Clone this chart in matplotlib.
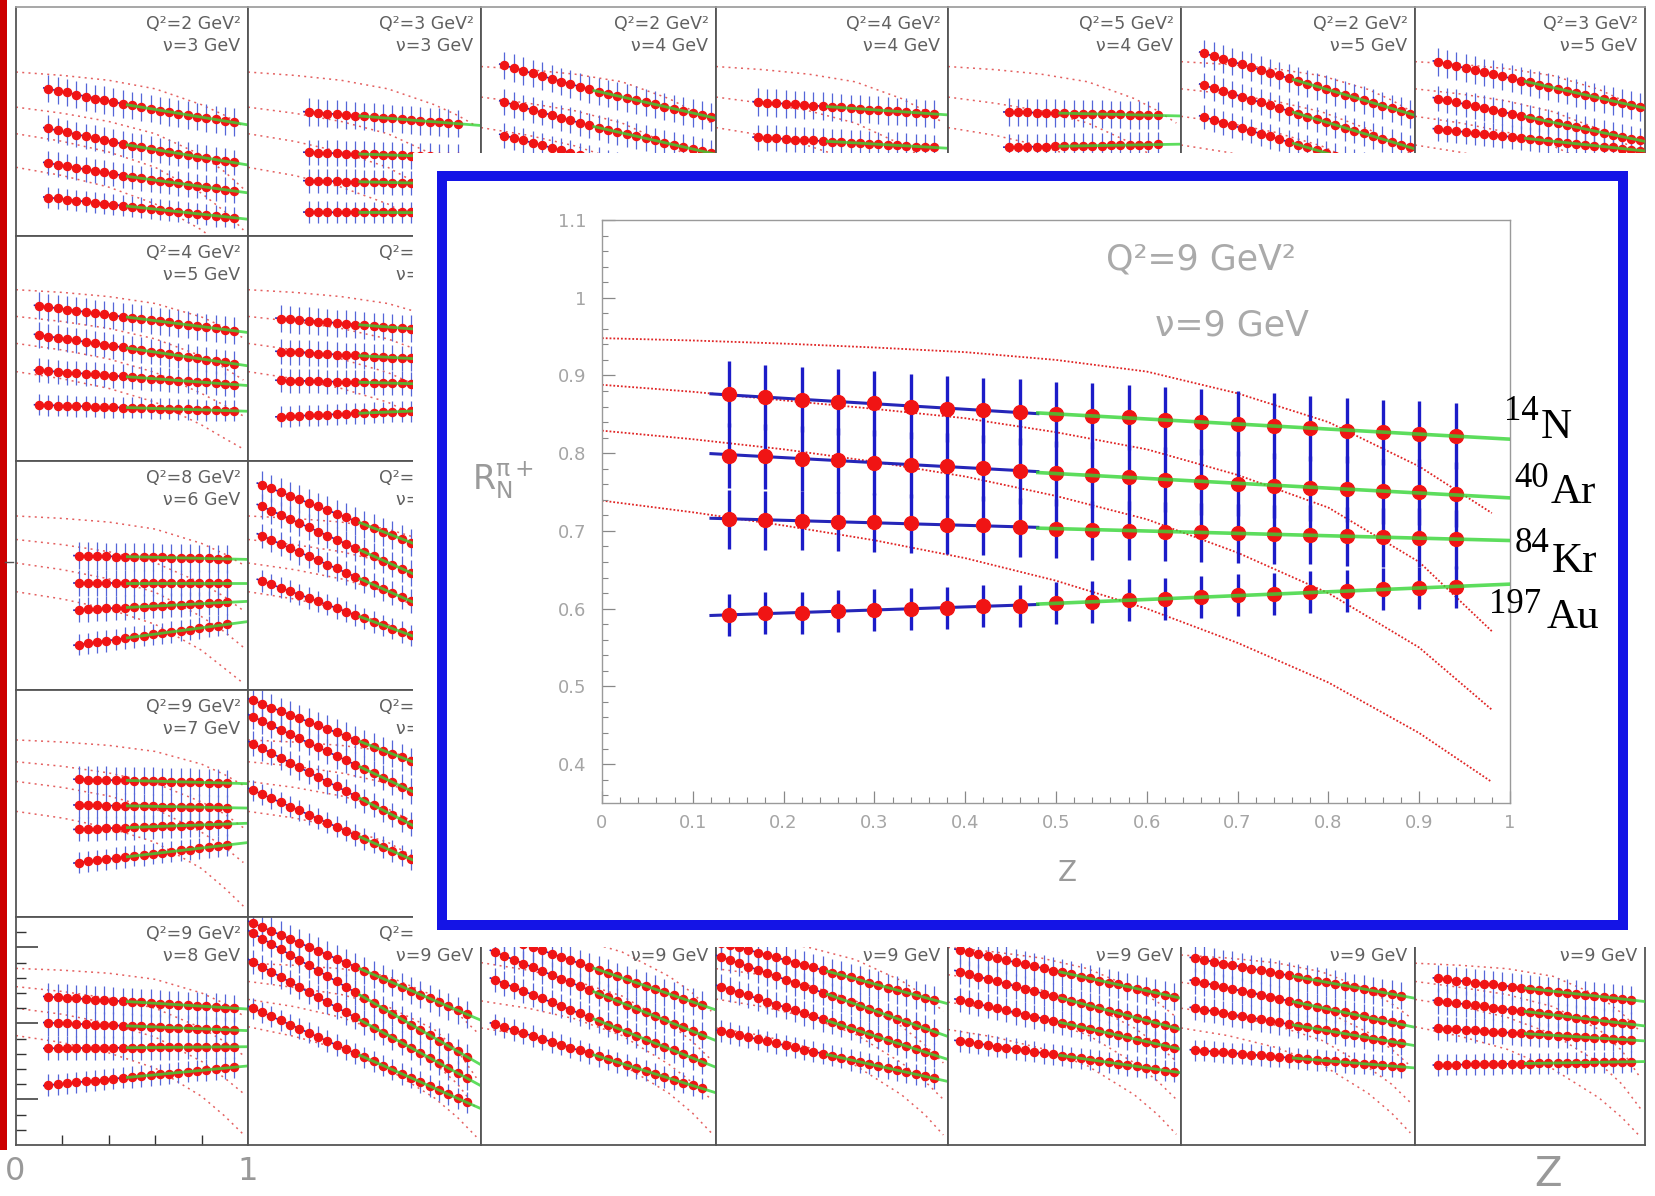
import matplotlib
matplotlib.use("Agg")
import matplotlib.pyplot as plt
import numpy as np
from matplotlib.patches import Rectangle
from matplotlib.lines import Line2D
from matplotlib.ticker import MultipleLocator

W, H = 1656, 1196

# ---------------- z bins of the pads ----------------
z_a = [0.14, 0.18, 0.22, 0.26, 0.30, 0.34, 0.38, 0.42, 0.46, 0.50, 0.54,
       0.58, 0.62, 0.66, 0.70, 0.74, 0.78, 0.82, 0.86, 0.90, 0.94]
z_b = [0.26, 0.30, 0.34, 0.38, 0.42, 0.46, 0.50, 0.54, 0.58, 0.62, 0.66,
       0.70, 0.74, 0.78, 0.82, 0.86, 0.90]
z_c = [0.10, 0.14, 0.18, 0.22, 0.26, 0.30, 0.34, 0.38, 0.42, 0.46, 0.50, 0.54,
       0.58, 0.62, 0.66, 0.70, 0.74, 0.78, 0.82, 0.86, 0.90, 0.94, 0.98]
z_d = [0.18, 0.22, 0.26, 0.30, 0.34, 0.38, 0.42, 0.46, 0.50, 0.54,
       0.58, 0.62, 0.66, 0.70, 0.74, 0.78, 0.82, 0.86, 0.90, 0.94]
z_e = [0.10, 0.14, 0.18, 0.22, 0.26, 0.30, 0.34, 0.38, 0.42, 0.46, 0.50,
       0.54, 0.58, 0.62, 0.66, 0.70, 0.74, 0.78, 0.82, 0.86, 0.90, 0.94]
z_f = [0.27, 0.31, 0.35, 0.39, 0.43, 0.47, 0.51, 0.55, 0.59, 0.63, 0.67,
       0.71, 0.75, 0.79, 0.83, 0.87, 0.91]
z_g = [0.06, 0.10, 0.14, 0.18, 0.22, 0.26, 0.30, 0.34, 0.38, 0.42, 0.46, 0.50,
       0.54, 0.58, 0.62, 0.66, 0.70, 0.74, 0.78, 0.82, 0.86, 0.90, 0.94]
z_h = [0.02, 0.06, 0.10, 0.14, 0.18, 0.22, 0.26, 0.30, 0.34, 0.38, 0.42, 0.46,
       0.50, 0.54, 0.58, 0.62, 0.66, 0.70, 0.74, 0.78, 0.82, 0.86, 0.90, 0.94]
z_i = [0.05, 0.09, 0.13, 0.17, 0.21, 0.25, 0.29, 0.33, 0.37, 0.41, 0.45, 0.49,
       0.53, 0.57, 0.61, 0.65, 0.69, 0.73, 0.77, 0.81, 0.85, 0.89, 0.93, 0.97]

# ---------------- model curves (dotted) ----------------
z_curve = [0.0, 0.2, 0.4, 0.6, 0.8, 0.9, 0.98]
nu3_curves = [[0.887, 0.876, 0.860, 0.832, 0.780, 0.745, 0.710],
              [0.772, 0.752, 0.725, 0.685, 0.615, 0.560, 0.505],
              [0.685, 0.660, 0.625, 0.575, 0.490, 0.430, 0.370],
              [0.575, 0.548, 0.510, 0.455, 0.370, 0.310, 0.250]]
nu4_curves = [[0.905, 0.895, 0.880, 0.855, 0.800, 0.760, 0.720],
              [0.805, 0.785, 0.760, 0.720, 0.650, 0.600, 0.550],
              [0.705, 0.680, 0.645, 0.595, 0.510, 0.455, 0.400],
              [0.600, 0.570, 0.535, 0.480, 0.390, 0.330, 0.280]]
nu5_curves = [[0.921, 0.912, 0.898, 0.875, 0.830, 0.795, 0.760],
              [0.832, 0.815, 0.792, 0.757, 0.700, 0.660, 0.620],
              [0.742, 0.720, 0.690, 0.645, 0.575, 0.535, 0.500],
              [0.648, 0.624, 0.592, 0.546, 0.470, 0.425, 0.390]]
nu6_curves = [[0.920, 0.912, 0.900, 0.877, 0.830, 0.795, 0.760],
              [0.843, 0.826, 0.803, 0.767, 0.700, 0.655, 0.610],
              [0.766, 0.744, 0.714, 0.670, 0.590, 0.540, 0.490],
              [0.672, 0.648, 0.615, 0.565, 0.480, 0.420, 0.372]]
nu7_curves = [[0.935, 0.928, 0.917, 0.897, 0.855, 0.820, 0.785],
              [0.863, 0.848, 0.826, 0.792, 0.730, 0.690, 0.645],
              [0.798, 0.778, 0.750, 0.707, 0.630, 0.580, 0.530],
              [0.699, 0.677, 0.645, 0.597, 0.510, 0.445, 0.386]]
nu8_curves = [[0.931, 0.925, 0.915, 0.895, 0.850, 0.815, 0.775],
              [0.871, 0.855, 0.833, 0.800, 0.735, 0.690, 0.645],
              [0.800, 0.780, 0.750, 0.705, 0.625, 0.570, 0.520],
              [0.710, 0.687, 0.653, 0.603, 0.510, 0.445, 0.385]]
nu9_curves = [[0.948, 0.941, 0.930, 0.905, 0.840, 0.783, 0.723],
              [0.888, 0.868, 0.845, 0.805, 0.730, 0.660, 0.571],
              [0.829, 0.805, 0.770, 0.715, 0.620, 0.550, 0.470],
              [0.739, 0.707, 0.665, 0.600, 0.505, 0.440, 0.377]]
p42_curves = [[1.080, 1.060, 1.030, 0.985, 0.905, 0.850, 0.790],
              [0.950, 0.925, 0.890, 0.840, 0.750, 0.690, 0.630],
              [0.824, 0.800, 0.765, 0.710, 0.615, 0.555, 0.500],
              [0.735, 0.710, 0.672, 0.615, 0.520, 0.455, 0.390]]
p43_curves = [[1.040, 1.025, 1.000, 0.960, 0.890, 0.840, 0.790],
              [0.930, 0.910, 0.875, 0.825, 0.740, 0.680, 0.620],
              [0.830, 0.805, 0.770, 0.715, 0.620, 0.560, 0.500],
              [0.735, 0.710, 0.670, 0.612, 0.515, 0.450, 0.383]]
p44_curves = [[1.000, 0.985, 0.965, 0.930, 0.865, 0.820, 0.770],
              [0.910, 0.890, 0.860, 0.815, 0.735, 0.680, 0.625],
              [0.820, 0.797, 0.763, 0.712, 0.620, 0.560, 0.500],
              [0.730, 0.705, 0.668, 0.610, 0.515, 0.450, 0.385]]
p45_curves = [[0.975, 0.965, 0.950, 0.920, 0.860, 0.815, 0.770],
              [0.885, 0.865, 0.838, 0.797, 0.720, 0.665, 0.610],
              [0.800, 0.778, 0.745, 0.695, 0.605, 0.550, 0.490],
              [0.735, 0.710, 0.672, 0.615, 0.520, 0.455, 0.390]]

# finer reading of the curves in the zoomed pad
z_curve_big = [0.0, 0.1, 0.2, 0.3, 0.4, 0.5, 0.6, 0.7, 0.8, 0.9, 0.98]
big_curves = [[0.948, 0.945, 0.941, 0.936, 0.930, 0.920, 0.905, 0.877, 0.840, 0.783, 0.723],
              [0.888, 0.879, 0.868, 0.857, 0.845, 0.827, 0.805, 0.772, 0.730, 0.660, 0.571],
              [0.829, 0.818, 0.805, 0.789, 0.770, 0.745, 0.715, 0.672, 0.620, 0.550, 0.470],
              [0.739, 0.724, 0.707, 0.688, 0.665, 0.636, 0.600, 0.556, 0.505, 0.440, 0.377]]

# ---------------- small pads: R for N, Ar, Kr, Au ----------------
p00_N = [0.833, 0.826, 0.820, 0.813, 0.806, 0.800, 0.795, 0.789, 0.783, 0.778, 0.772,
         0.767, 0.761, 0.756, 0.751, 0.746, 0.741, 0.736, 0.732, 0.727, 0.723]
p00_Ar = [0.703, 0.696, 0.689, 0.682, 0.676, 0.670, 0.664, 0.658, 0.652, 0.646, 0.641,
          0.635, 0.630, 0.625, 0.620, 0.615, 0.610, 0.605, 0.600, 0.596, 0.591]
p00_Kr = [0.589, 0.584, 0.578, 0.573, 0.568, 0.563, 0.558, 0.553, 0.548, 0.544, 0.539,
          0.535, 0.530, 0.526, 0.522, 0.518, 0.514, 0.510, 0.506, 0.502, 0.498]
p00_Au = [0.476, 0.473, 0.469, 0.466, 0.463, 0.459, 0.456, 0.453, 0.449, 0.446, 0.443,
          0.440, 0.436, 0.433, 0.430, 0.426, 0.423, 0.420, 0.416, 0.413, 0.410]

p01_N = [0.756, 0.754, 0.751, 0.749, 0.746, 0.744, 0.742, 0.739, 0.737, 0.735, 0.732,
         0.730, 0.727, 0.725, 0.723, 0.720, 0.718]
p01_Ar = [0.624, 0.623, 0.622, 0.621, 0.620, 0.619, 0.618, 0.617, 0.616, 0.615, 0.614,
          0.613, 0.612, 0.611, 0.610, 0.609, 0.608]
p01_Kr = [0.531, 0.530, 0.530, 0.529, 0.528, 0.528, 0.527, 0.526, 0.526, 0.525, 0.524,
          0.524, 0.523, 0.522, 0.522, 0.521, 0.520]
p01_Au = [0.428, 0.428, 0.428, 0.428, 0.427, 0.427, 0.427, 0.427, 0.427, 0.427, 0.427,
          0.427, 0.427, 0.426, 0.426, 0.426, 0.426]

p02_N = [0.909, 0.900, 0.891, 0.883, 0.874, 0.865, 0.856, 0.848, 0.839, 0.830, 0.823, 0.816,
         0.809, 0.802, 0.795, 0.788, 0.781, 0.774, 0.767, 0.760, 0.753, 0.746, 0.739]
p02_Ar = [0.789, 0.780, 0.771, 0.763, 0.754, 0.746, 0.737, 0.729, 0.720, 0.712, 0.705, 0.698,
          0.691, 0.684, 0.677, 0.670, 0.663, 0.656, 0.649, 0.642, 0.635, 0.628, 0.621]
p02_Kr = [0.679, 0.671, 0.663, 0.655, 0.647, 0.639, 0.631, 0.623, 0.615, 0.607, 0.600, 0.593,
          0.586, 0.579, 0.572, 0.565, 0.558, 0.551, 0.544, 0.537, 0.530, 0.523, 0.516]

p03_N = [0.789, 0.787, 0.785, 0.783, 0.781, 0.779, 0.777, 0.775, 0.773, 0.771,
         0.768, 0.766, 0.764, 0.762, 0.760, 0.758, 0.756, 0.754, 0.752, 0.750]
p03_Ar = [0.673, 0.671, 0.670, 0.668, 0.666, 0.664, 0.663, 0.661, 0.659, 0.657,
          0.656, 0.654, 0.652, 0.650, 0.649, 0.647, 0.645, 0.643, 0.642, 0.640]

p04_N = [0.756, 0.755, 0.755, 0.754, 0.753, 0.753, 0.752, 0.751, 0.751, 0.750, 0.749,
         0.748, 0.748, 0.747, 0.746, 0.746, 0.745]
p04_Ar = [0.641, 0.642, 0.642, 0.643, 0.643, 0.644, 0.644, 0.645, 0.645, 0.646, 0.646,
          0.647, 0.647, 0.648, 0.648, 0.649, 0.650]

p05_N = [0.948, 0.939, 0.930, 0.921, 0.912, 0.903, 0.894, 0.885, 0.876, 0.867, 0.858, 0.849,
         0.840, 0.831, 0.822, 0.813, 0.804, 0.795, 0.786, 0.777, 0.768, 0.759, 0.750]
p05_Ar = [0.843, 0.834, 0.825, 0.815, 0.806, 0.797, 0.788, 0.778, 0.769, 0.760, 0.751, 0.741,
          0.732, 0.723, 0.714, 0.704, 0.695, 0.686, 0.677, 0.668, 0.658, 0.649, 0.640]
p05_Kr = [0.739, 0.730, 0.721, 0.712, 0.703, 0.694, 0.685, 0.676, 0.667, 0.658, 0.649, 0.640,
          0.631, 0.622, 0.613, 0.604, 0.595, 0.586, 0.577, 0.568, 0.559, 0.550, 0.541]

p06_N = [0.920, 0.913, 0.907, 0.900, 0.893, 0.886, 0.880, 0.873, 0.866, 0.859, 0.853, 0.846,
         0.839, 0.833, 0.826, 0.819, 0.812, 0.806, 0.799, 0.792, 0.785, 0.779, 0.772]
p06_Ar = [0.800, 0.794, 0.788, 0.781, 0.775, 0.769, 0.763, 0.756, 0.750, 0.744, 0.738, 0.731,
          0.725, 0.719, 0.713, 0.707, 0.700, 0.694, 0.688, 0.682, 0.675, 0.669, 0.663]
p06_Kr = [0.700, 0.697, 0.694, 0.690, 0.687, 0.684, 0.681, 0.678, 0.675, 0.671, 0.668, 0.665,
          0.662, 0.659, 0.656, 0.652, 0.649, 0.646, 0.643, 0.640, 0.636, 0.633, 0.630]

p10_N = [0.867, 0.863, 0.859, 0.855, 0.851, 0.847, 0.843, 0.839, 0.835, 0.831, 0.827,
         0.824, 0.820, 0.816, 0.812, 0.808, 0.804, 0.800, 0.796, 0.792, 0.788, 0.784]
p10_Ar = [0.770, 0.765, 0.761, 0.756, 0.752, 0.747, 0.743, 0.738, 0.733, 0.729, 0.724,
          0.720, 0.715, 0.711, 0.706, 0.701, 0.697, 0.692, 0.688, 0.683, 0.679, 0.674]
p10_Kr = [0.652, 0.650, 0.648, 0.645, 0.643, 0.641, 0.639, 0.636, 0.634, 0.632, 0.630,
          0.627, 0.625, 0.623, 0.621, 0.618, 0.616, 0.614, 0.612, 0.609, 0.607, 0.605]
p10_Au = [0.537, 0.536, 0.535, 0.534, 0.533, 0.532, 0.531, 0.530, 0.529, 0.528, 0.527,
          0.527, 0.526, 0.525, 0.524, 0.523, 0.522, 0.521, 0.520, 0.519, 0.518, 0.517]

p11_N = [0.825, 0.823, 0.820, 0.818, 0.815, 0.813, 0.810, 0.808, 0.805, 0.803, 0.800,
         0.798, 0.795, 0.793, 0.791, 0.788]
p11_Ar = [0.715, 0.713, 0.712, 0.710, 0.708, 0.707, 0.705, 0.703, 0.702, 0.700, 0.698,
          0.697, 0.695, 0.693, 0.692, 0.690]
p11_Kr = [0.619, 0.618, 0.617, 0.617, 0.616, 0.615, 0.614, 0.613, 0.613, 0.612, 0.611,
          0.610, 0.609, 0.609, 0.608, 0.607]
p11_Au = [0.498, 0.499, 0.501, 0.502, 0.503, 0.505, 0.506, 0.507, 0.509, 0.510, 0.511,
          0.512, 0.514, 0.515, 0.516, 0.518]

p20_N = [0.790, 0.789, 0.789, 0.788, 0.787, 0.787, 0.786, 0.785, 0.785, 0.784, 0.783,
         0.783, 0.782, 0.781, 0.781, 0.780, 0.779]
p20_Ar = [0.700, 0.700, 0.700, 0.700, 0.700, 0.700, 0.700, 0.700, 0.700, 0.700, 0.700,
          0.700, 0.700, 0.700, 0.700, 0.700, 0.700]
p20_Kr = [0.612, 0.614, 0.615, 0.617, 0.618, 0.620, 0.621, 0.623, 0.625, 0.626, 0.628,
          0.629, 0.631, 0.632, 0.634, 0.635, 0.637]
p20_Au = [0.499, 0.503, 0.507, 0.511, 0.515, 0.520, 0.524, 0.528, 0.532, 0.536, 0.540,
          0.544, 0.548, 0.553, 0.557, 0.561, 0.565]

p21_N = [1.022, 1.010, 0.998, 0.986, 0.975, 0.963, 0.951, 0.939, 0.927, 0.916, 0.904,
         0.892, 0.880, 0.868, 0.857, 0.845, 0.833, 0.821]
p21_Ar = [0.951, 0.937, 0.924, 0.910, 0.897, 0.883, 0.869, 0.856, 0.842, 0.829, 0.815,
          0.802, 0.788, 0.774, 0.761, 0.747, 0.734, 0.720]
p21_Kr = [0.855, 0.842, 0.828, 0.815, 0.801, 0.788, 0.775, 0.761, 0.748, 0.734, 0.721,
          0.708, 0.694, 0.681, 0.667, 0.654, 0.641, 0.627]
p21_Au = [0.707, 0.696, 0.685, 0.674, 0.662, 0.651, 0.640, 0.629, 0.618, 0.607, 0.596,
          0.585, 0.573, 0.562, 0.551, 0.540, 0.529, 0.518]

p30_N = [0.805, 0.804, 0.803, 0.803, 0.802, 0.801, 0.800, 0.800, 0.799, 0.798, 0.797,
         0.797, 0.796, 0.795, 0.794, 0.793, 0.792]
p30_Ar = [0.720, 0.719, 0.719, 0.718, 0.718, 0.717, 0.717, 0.716, 0.716, 0.715, 0.715,
          0.714, 0.713, 0.713, 0.712, 0.712, 0.711]
p30_Kr = [0.640, 0.641, 0.642, 0.643, 0.644, 0.645, 0.646, 0.647, 0.648, 0.650, 0.651,
          0.652, 0.653, 0.654, 0.655, 0.656, 0.657]
p30_Au = [0.530, 0.534, 0.537, 0.541, 0.545, 0.548, 0.552, 0.555, 0.559, 0.563, 0.566,
          0.570, 0.573, 0.577, 0.581, 0.584, 0.588]

p31_N = [1.066, 1.054, 1.042, 1.030, 1.019, 1.007, 0.995, 0.983, 0.971, 0.960, 0.948,
         0.936, 0.924, 0.912, 0.900, 0.889, 0.877, 0.865, 0.853]
p31_Ar = [1.012, 0.998, 0.983, 0.969, 0.954, 0.940, 0.926, 0.911, 0.897, 0.882, 0.868,
          0.853, 0.839, 0.825, 0.810, 0.796, 0.781, 0.767, 0.752]
p31_Kr = [0.923, 0.907, 0.892, 0.876, 0.860, 0.844, 0.829, 0.813, 0.797, 0.782, 0.766,
          0.750, 0.734, 0.719, 0.703, 0.687, 0.671, 0.656, 0.640]
p31_Au = [0.769, 0.756, 0.742, 0.729, 0.715, 0.702, 0.688, 0.675, 0.662, 0.648, 0.635,
          0.621, 0.608, 0.595, 0.581, 0.568, 0.554, 0.541, 0.527]

p40_N = [0.838, 0.836, 0.834, 0.832, 0.830, 0.828, 0.827, 0.825, 0.823, 0.821, 0.819,
         0.817, 0.815, 0.813, 0.811, 0.809, 0.808, 0.806, 0.804, 0.802, 0.800]
p40_Ar = [0.752, 0.751, 0.750, 0.748, 0.747, 0.746, 0.745, 0.744, 0.742, 0.741, 0.740,
          0.739, 0.738, 0.736, 0.735, 0.734, 0.733, 0.732, 0.730, 0.729, 0.728]
p40_Kr = [0.668, 0.668, 0.669, 0.669, 0.669, 0.669, 0.670, 0.670, 0.670, 0.670, 0.670,
          0.671, 0.671, 0.671, 0.671, 0.672, 0.672, 0.672, 0.672, 0.673, 0.673]
p40_Au = [0.547, 0.550, 0.553, 0.556, 0.559, 0.562, 0.565, 0.568, 0.571, 0.574, 0.577,
          0.579, 0.582, 0.585, 0.588, 0.591, 0.594, 0.597, 0.600, 0.603, 0.606]

p41_N = [1.080, 1.067, 1.054, 1.041, 1.028, 1.015, 1.002, 0.989, 0.976, 0.963, 0.950, 0.937,
         0.923, 0.910, 0.897, 0.884, 0.871, 0.858, 0.845, 0.832, 0.819, 0.806, 0.793, 0.780]
p41_Ar = [1.047, 1.029, 1.012, 0.994, 0.976, 0.959, 0.941, 0.923, 0.906, 0.888, 0.870, 0.852,
          0.835, 0.817, 0.799, 0.782, 0.764, 0.746, 0.729, 0.711, 0.693, 0.676, 0.658, 0.640]
p41_Kr = [0.953, 0.936, 0.920, 0.903, 0.886, 0.870, 0.853, 0.836, 0.820, 0.803, 0.786, 0.770,
          0.753, 0.736, 0.720, 0.703, 0.686, 0.670, 0.653, 0.636, 0.620, 0.603, 0.586, 0.570]
p41_Au = [0.800, 0.787, 0.773, 0.760, 0.746, 0.733, 0.719, 0.706, 0.692, 0.679, 0.665, 0.652,
          0.638, 0.625, 0.611, 0.598, 0.584, 0.571, 0.557, 0.544, 0.530, 0.517, 0.503, 0.490]

p42_N = [1.043, 1.032, 1.022, 1.011, 1.001, 0.990, 0.979, 0.969, 0.958, 0.948, 0.937, 0.926,
         0.916, 0.905, 0.895, 0.884, 0.873, 0.863, 0.852, 0.842, 0.831, 0.821, 0.810]
p42_Ar = [0.984, 0.972, 0.959, 0.947, 0.935, 0.922, 0.910, 0.897, 0.885, 0.873, 0.860, 0.848,
          0.836, 0.823, 0.811, 0.799, 0.786, 0.774, 0.761, 0.749, 0.737, 0.724, 0.712]
p42_Kr = [0.893, 0.881, 0.869, 0.856, 0.844, 0.832, 0.820, 0.807, 0.795, 0.783, 0.771, 0.758,
          0.746, 0.734, 0.722, 0.710, 0.697, 0.685, 0.673, 0.661, 0.648, 0.636, 0.624]
p42_Au = [0.747, 0.737, 0.728, 0.718, 0.709, 0.699, 0.689, 0.680, 0.670, 0.661, 0.651, 0.642,
          0.632, 0.622, 0.613, 0.603, 0.594, 0.584, 0.574, 0.565, 0.555, 0.546, 0.536]

p43_N = [1.016, 1.008, 1.000, 0.991, 0.983, 0.975, 0.967, 0.958, 0.950, 0.942, 0.934, 0.926,
         0.917, 0.909, 0.901, 0.893, 0.884, 0.876, 0.868, 0.860, 0.852, 0.843, 0.835, 0.827]
p43_Ar = [0.969, 0.958, 0.948, 0.937, 0.926, 0.915, 0.905, 0.894, 0.883, 0.873, 0.862, 0.851,
          0.841, 0.830, 0.819, 0.808, 0.798, 0.787, 0.776, 0.766, 0.755, 0.744, 0.734, 0.723]
p43_Kr = [0.871, 0.861, 0.851, 0.842, 0.832, 0.822, 0.812, 0.803, 0.793, 0.783, 0.773, 0.763,
          0.754, 0.744, 0.734, 0.724, 0.714, 0.705, 0.695, 0.685, 0.675, 0.666, 0.656, 0.646]
p43_Au = [0.725, 0.718, 0.711, 0.705, 0.698, 0.691, 0.684, 0.678, 0.671, 0.664, 0.657, 0.650,
          0.644, 0.637, 0.630, 0.623, 0.617, 0.610, 0.603, 0.596, 0.589, 0.583, 0.576, 0.569]

p44_N = [0.991, 0.984, 0.978, 0.971, 0.964, 0.958, 0.951, 0.944, 0.938, 0.931, 0.924, 0.918,
         0.911, 0.904, 0.898, 0.891, 0.884, 0.878, 0.871, 0.864, 0.858, 0.851, 0.844, 0.838]
p44_Ar = [0.920, 0.912, 0.904, 0.896, 0.888, 0.880, 0.872, 0.864, 0.856, 0.848, 0.840, 0.832,
          0.824, 0.816, 0.808, 0.800, 0.792, 0.784, 0.776, 0.768, 0.760, 0.752, 0.744, 0.736]
p44_Kr = [0.827, 0.820, 0.813, 0.807, 0.800, 0.793, 0.786, 0.779, 0.772, 0.766, 0.759, 0.752,
          0.745, 0.738, 0.731, 0.725, 0.718, 0.711, 0.704, 0.697, 0.690, 0.684, 0.677, 0.670]
p44_Au = [0.692, 0.688, 0.683, 0.679, 0.674, 0.670, 0.666, 0.661, 0.657, 0.652, 0.648, 0.644,
          0.639, 0.635, 0.631, 0.626, 0.622, 0.617, 0.613, 0.609, 0.604, 0.600, 0.595, 0.591]

p45_N = [0.964, 0.958, 0.953, 0.947, 0.942, 0.936, 0.930, 0.925, 0.919, 0.914, 0.908, 0.902,
         0.897, 0.891, 0.886, 0.880, 0.874, 0.869, 0.863, 0.858, 0.852, 0.847, 0.841]
p45_Ar = [0.889, 0.883, 0.876, 0.870, 0.863, 0.857, 0.850, 0.844, 0.837, 0.831, 0.824, 0.818,
          0.812, 0.805, 0.799, 0.792, 0.786, 0.779, 0.773, 0.766, 0.760, 0.753, 0.747]
p45_Kr = [0.800, 0.795, 0.790, 0.784, 0.779, 0.774, 0.769, 0.763, 0.758, 0.753, 0.748, 0.742,
          0.737, 0.732, 0.727, 0.721, 0.716, 0.711, 0.706, 0.700, 0.695, 0.690, 0.685]
p45_Au = [0.662, 0.660, 0.657, 0.655, 0.652, 0.650, 0.647, 0.645, 0.642, 0.640, 0.637, 0.635,
          0.632, 0.630, 0.627, 0.625, 0.622, 0.620, 0.617, 0.615, 0.612, 0.610, 0.607]

p46_N = [0.898, 0.895, 0.891, 0.888, 0.884, 0.881, 0.878, 0.874, 0.871, 0.868, 0.864,
         0.861, 0.857, 0.854, 0.851, 0.847, 0.844, 0.841, 0.837, 0.834, 0.830, 0.827]
p46_Ar = [0.824, 0.820, 0.817, 0.813, 0.809, 0.806, 0.802, 0.798, 0.795, 0.791, 0.787,
          0.784, 0.780, 0.776, 0.773, 0.769, 0.765, 0.762, 0.758, 0.754, 0.751, 0.747]
p46_Kr = [0.734, 0.732, 0.730, 0.728, 0.727, 0.725, 0.723, 0.721, 0.719, 0.717, 0.715,
          0.714, 0.712, 0.710, 0.708, 0.706, 0.704, 0.702, 0.701, 0.699, 0.697, 0.695]
p46_Au = [0.613, 0.614, 0.614, 0.615, 0.615, 0.616, 0.616, 0.617, 0.617, 0.618, 0.618,
          0.619, 0.619, 0.620, 0.620, 0.621, 0.621, 0.622, 0.622, 0.623, 0.623, 0.624]

small_err = [0.045, 0.042, 0.040, 0.035]

# ---------------- big pad: Q2 = 9 GeV2, nu = 9 GeV ----------------
big_z = z_a
big_N = [0.876, 0.872, 0.869, 0.866, 0.864, 0.860, 0.857, 0.855, 0.853, 0.850, 0.848,
         0.846, 0.843, 0.840, 0.838, 0.835, 0.832, 0.829, 0.827, 0.825, 0.822]
big_Ar = [0.797, 0.796, 0.793, 0.791, 0.788, 0.785, 0.784, 0.781, 0.777, 0.774, 0.772,
          0.769, 0.766, 0.763, 0.761, 0.758, 0.755, 0.754, 0.751, 0.750, 0.747]
big_Kr = [0.715, 0.714, 0.713, 0.712, 0.711, 0.710, 0.708, 0.707, 0.705, 0.703, 0.701,
          0.700, 0.699, 0.698, 0.697, 0.696, 0.695, 0.693, 0.692, 0.691, 0.689]
big_Au = [0.592, 0.594, 0.595, 0.597, 0.598, 0.600, 0.601, 0.603, 0.604, 0.607, 0.609,
          0.611, 0.613, 0.615, 0.617, 0.619, 0.621, 0.623, 0.625, 0.626, 0.628]
big_err = [0.042, 0.042, 0.038, 0.027]
mass_numbers = ['14', '40', '84', '197']
elements = ['N', 'Ar', 'Kr', 'Au']
x_ticks = [0, 0.1, 0.2, 0.3, 0.4, 0.5, 0.6, 0.7, 0.8, 0.9, 1.0]
x_ticklabels = ['0', '0.1', '0.2', '0.3', '0.4', '0.5', '0.6', '0.7', '0.8', '0.9', '1']
y_ticks = [0.4, 0.5, 0.6, 0.7, 0.8, 0.9, 1.0, 1.1]
y_ticklabels = ['0.4', '0.5', '0.6', '0.7', '0.8', '0.9', '1', '1.1']

# (row, col, Q2, nu, z, series, curves)
panels = [
    (0, 0, '2', '3', z_a, [p00_N, p00_Ar, p00_Kr, p00_Au], nu3_curves),
    (0, 1, '3', '3', z_b, [p01_N, p01_Ar, p01_Kr, p01_Au], nu3_curves),
    (0, 2, '2', '4', z_c, [p02_N, p02_Ar, p02_Kr], nu4_curves),
    (0, 3, '4', '4', z_d, [p03_N, p03_Ar], nu4_curves),
    (0, 4, '5', '4', z_b, [p04_N, p04_Ar], nu4_curves),
    (0, 5, '2', '5', z_c, [p05_N, p05_Ar, p05_Kr], nu5_curves),
    (0, 6, '3', '5', z_c, [p06_N, p06_Ar, p06_Kr], nu5_curves),
    (1, 0, '4', '5', z_e, [p10_N, p10_Ar, p10_Kr, p10_Au], nu5_curves),
    (1, 1, '5', '5', z_a[:16], [p11_N, p11_Ar, p11_Kr, p11_Au], nu5_curves),
    (2, 0, '8', '6', z_f, [p20_N, p20_Ar, p20_Kr, p20_Au], nu6_curves),
    (2, 1, '2', '7', z_g[:18], [p21_N, p21_Ar, p21_Kr, p21_Au], nu6_curves),
    (3, 0, '9', '7', z_f, [p30_N, p30_Ar, p30_Kr, p30_Au], nu7_curves),
    (3, 1, '2', '8', z_h[:19], [p31_N, p31_Ar, p31_Kr, p31_Au], nu7_curves),
    (4, 0, '9', '8', z_a, [p40_N, p40_Ar, p40_Kr, p40_Au], nu8_curves),
    (4, 1, '2', '9', z_h, [p41_N, p41_Ar, p41_Kr, p41_Au], nu9_curves),
    (4, 2, '3', '9', z_g, [p42_N, p42_Ar, p42_Kr, p42_Au], p42_curves),
    (4, 3, '4', '9', z_h, [p43_N, p43_Ar, p43_Kr, p43_Au], p43_curves),
    (4, 4, '5', '9', z_i, [p44_N, p44_Ar, p44_Kr, p44_Au], p44_curves),
    (4, 5, '6', '9', z_g, [p45_N, p45_Ar, p45_Kr, p45_Au], p45_curves),
    (4, 6, '8', '9', z_e, [p46_N, p46_Ar, p46_Kr, p46_Au], nu9_curves),
]

# pad grid in pixels
col_edges = [16, 248, 481, 716, 948, 1181, 1415, 1645]
row_edges = [7, 236, 461, 690, 917, 1145]


def box(x0, y0, x1, y1):
    return [x0 / W, 1 - y1 / H, (x1 - x0) / W, (y1 - y0) / H]


def fit_line(ax, z, v, lo, hi, x0, x1, **kw):
    z = np.asarray(z, float)
    v = np.asarray(v, float)
    m = (z >= lo) & (z <= hi)
    if m.sum() < 2:
        return
    k, b = np.polyfit(z[m], v[m], 1)
    xs = np.array([x0, x1])
    ax.plot(xs, k * xs + b, **kw)


def draw_pad(ax, z, series, zc, curves, errs, big=False):
    if big:
        c_ls, c_lw, c_col = (0, (1.0, 1.1)), 1.3, '#e02525'
        e_lw, e_col = 2.4, '#1c1cc8'
        b_lw, g_lw, ms = 2.2, 2.6, 10
    else:
        c_ls, c_lw, c_col = (0, (1.3, 2.8)), 1.1, '#e46060'
        e_lw, e_col = 0.9, '#5566d8'
        b_lw, g_lw, ms = 1.2, 2.0, 5.8
    for c in curves:
        ax.plot(zc, c, ls=c_ls, lw=c_lw, color=c_col, zorder=1)
    for k, v in enumerate(series):
        ax.errorbar(z, v, yerr=errs[k], fmt='none', ecolor=e_col,
                    elinewidth=e_lw, capsize=0, zorder=2)
        fit_line(ax, z, v, 0.0, 0.50, z[0] - 0.02, 0.48,
                 color='#2626b8', lw=b_lw, zorder=3)
        ax.plot(z, v, 'o', color='#f01414', mec='#f01414', ms=ms, zorder=4)
        fit_line(ax, z, v, 0.46, 1.0, 0.48, 1.0,
                 color='#35d535', lw=g_lw, alpha=0.8, zorder=5)


fig = plt.figure(figsize=(W / 100, H / 100), dpi=100)

for row, col, q2, nu, z, series, curves in panels:
    x0, x1 = col_edges[col], col_edges[col + 1]
    y0, y1 = row_edges[row], row_edges[row + 1]
    ax = fig.add_axes(box(x0, y0, x1, y1))
    ax.set_xlim(0, 1)
    ax.set_ylim(0.35, 1.1)
    for s in ax.spines.values():
        s.set_color('#555555')
        s.set_linewidth(1.3)
    if row == 0:
        ax.spines['top'].set_color('#a0a0a0')
    if row == 4 and col == 0:
        ax.set_yticks([0.5, 0.75, 1.0])
        ax.set_yticks([0.40, 0.45, 0.55, 0.60, 0.65, 0.70, 0.80, 0.85, 0.90, 0.95, 1.05],
                      minor=True)
        ax.set_xticks([0.2, 0.4, 0.6, 0.8])
        ax.tick_params(which='both', direction='in', color='#333333',
                       labelleft=False, labelbottom=False)
        ax.tick_params(axis='y', which='major', length=16, width=1.1)
        ax.tick_params(axis='y', which='minor', length=7, width=1.0)
        ax.tick_params(axis='x', which='major', length=7, width=1.0)
    else:
        ax.set_xticks([])
        ax.set_yticks([])
    draw_pad(ax, z, series, z_curve, curves, small_err)
    fig.text((x1 - 7) / W, 1 - (y0 + 17) / H, 'Q²=' + q2 + ' GeV²', ha='right',
             va='center', fontsize=12.5, color='#606060')
    fig.text((x1 - 8) / W, 1 - (y0 + 39) / H, 'ν=' + nu + ' GeV', ha='right',
             va='center', fontsize=12.5, color='#606060')

# white area under the zoomed pad
fig.add_artist(Rectangle((413 / W, 1 - 947 / H), (W - 413) / W, (947 - 153) / H,
                         transform=fig.transFigure, facecolor='white',
                         edgecolor='none', zorder=5))
# blue frame
fig.add_artist(Rectangle((442 / W, 1 - 925 / H), (1623 - 442) / W, (925 - 176) / H,
                         transform=fig.transFigure, fill=False, edgecolor='#1414e6',
                         lw=7.2, zorder=9))
# red bar at the left edge
fig.add_artist(Rectangle((0, 1 - 1150 / H), 7 / W, 1150 / H, transform=fig.transFigure,
                         facecolor='#cc0000', edgecolor='none', zorder=6))
fig.add_artist(Line2D([5 / W, 13 / W], [1 - 562 / H, 1 - 562 / H],
                      transform=fig.transFigure, color='#555555', lw=1.0, zorder=6))

# ---------------- zoomed pad ----------------
ax = fig.add_axes(box(602, 220, 1510, 803))
ax.set_zorder(10)
ax.set_xlim(0, 1)
ax.set_ylim(0.35, 1.1)
ax.set_xticks(x_ticks)
ax.set_xticklabels(x_ticklabels)
ax.set_yticks(y_ticks)
ax.set_yticklabels(y_ticklabels)
ax.xaxis.set_minor_locator(MultipleLocator(0.02))
ax.yaxis.set_minor_locator(MultipleLocator(0.02))
ax.tick_params(which='both', direction='in', color='#888888', top=False, right=False)
ax.tick_params(which='major', length=9, width=0.9, labelsize=13, labelcolor='#a5a5a5')
ax.tick_params(which='minor', length=4.5, width=0.8)
ax.tick_params(axis='y', pad=11)
ax.tick_params(axis='x', pad=8)
for s in ax.spines.values():
    s.set_color('#9a9a9a')
    s.set_linewidth(1.0)
draw_pad(ax, big_z, [big_N, big_Ar, big_Kr, big_Au], z_curve_big, big_curves,
         big_err, big=True)

fig.text(1201 / W, 1 - 259 / H, 'Q²=9 GeV²', ha='center', va='center',
         fontsize=25, color='#aaaaaa', zorder=12)
fig.text(1232 / W, 1 - 325 / H, 'ν=9 GeV', ha='center', va='center',
         fontsize=25, color='#aaaaaa', zorder=12)
fig.text(503 / W, 1 - 481 / H, r'$\mathregular{R_N^{\pi+}}$', ha='center', va='center',
         fontsize=24, color='#9a9a9a', zorder=12)
fig.text(1067 / W, 1 - 873 / H, 'Z', ha='center', va='center', fontsize=20,
         color='#9a9a9a', zorder=12)

num_pos = [(1539, 420), (1549, 487), (1549, 552), (1541, 613)]
el_pos = [(1541, 438), (1551, 503), (1552, 572), (1547, 628)]
for m, e, (xn, yn), (xe, ye) in zip(mass_numbers, elements, num_pos, el_pos):
    fig.text(xn / W, 1 - yn / H, m, ha='right', va='baseline', fontsize=25,
             family='Liberation Serif', color='black', zorder=12)
    fig.text(xe / W, 1 - ye / H, e, ha='left', va='baseline', fontsize=31,
             family='Liberation Serif', color='black', zorder=12)

# axis marks of the whole grid
fig.text(15 / W, 1 - 1172 / H, '0', ha='center', va='center', fontsize=23, color='#999999')
fig.text(248 / W, 1 - 1172 / H, '1', ha='center', va='center', fontsize=23, color='#999999')
fig.text(1548 / W, 1 - 1175 / H, 'Z', ha='center', va='center', fontsize=29, color='#999999')

fig.savefig('out.png', dpi=100, facecolor='white')
